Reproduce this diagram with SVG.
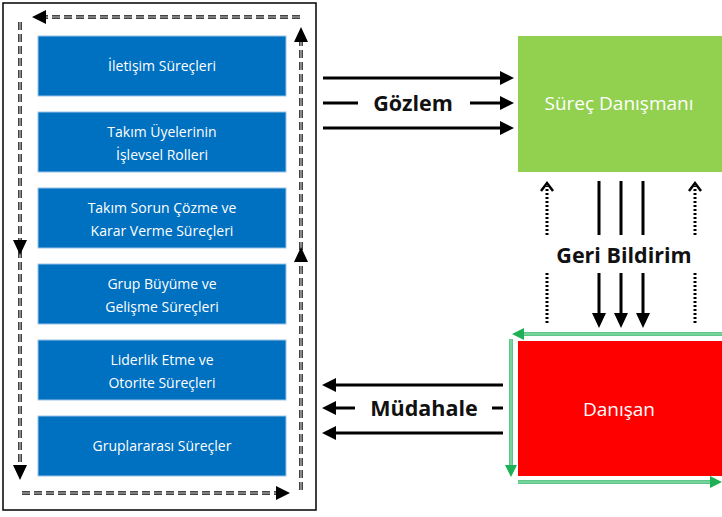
<svg xmlns="http://www.w3.org/2000/svg" width="722" height="517" viewBox="0 0 722 517">
<style>
.box{fill:#0070C0;stroke:#9DC3E6;stroke-width:1}
.bt{font-family:"Open Sans","Noto Sans",sans-serif;font-size:14px;fill:#fff;text-anchor:middle}
.big{font-family:"Open Sans","Noto Sans",sans-serif;font-size:19px;fill:#fff;text-anchor:middle}
.lbl{font-family:"Open Sans","Noto Sans",sans-serif;font-size:21.5px;font-weight:bold;fill:#111;text-anchor:middle}
.dash{fill:none;stroke:#444;stroke-width:4;stroke-dasharray:8,4}
.dashin{fill:none;stroke:#bbb;stroke-width:1.2;stroke-dasharray:8,4}
.sol{fill:none;stroke:#000;stroke-width:3}
.dot{fill:none;stroke:#000;stroke-width:3;stroke-dasharray:2,2}
.gr{fill:none;stroke:#28B463;stroke-width:3.5}
.grin{fill:none;stroke:#C8F0D4;stroke-width:1}
.hd{fill:#000}
.ghd{fill:#1FAF55}
</style>
<rect x="3" y="3" width="313" height="507" fill="#fff" stroke="#000" stroke-width="1.5"/>
<g id="n1"><rect class="box" x="38" y="36" width="248" height="60"/><text class="bt" x="162" y="71">İletişim Süreçleri</text></g>
<g id="n2"><rect class="box" x="38" y="112" width="248" height="60"/><text class="bt" x="162" y="137">Takım Üyelerinin</text><text class="bt" x="162" y="159.5">İşlevsel Rolleri</text></g>
<g id="n3"><rect class="box" x="38" y="188" width="248" height="60"/><text class="bt" x="162" y="213">Takım Sorun Çözme ve</text><text class="bt" x="162" y="235.5">Karar Verme Süreçleri</text></g>
<g id="n4"><rect class="box" x="38" y="264" width="248" height="60"/><text class="bt" x="162" y="289">Grup Büyüme ve</text><text class="bt" x="162" y="311.5">Gelişme Süreçleri</text></g>
<g id="n5"><rect class="box" x="38" y="340" width="248" height="60"/><text class="bt" x="162" y="365">Liderlik Etme ve</text><text class="bt" x="162" y="387.5">Otorite Süreçleri</text></g>
<g id="n6"><rect class="box" x="38" y="416" width="248" height="60"/><text class="bt" x="162" y="451">Gruplararası Süreçler</text></g>
<g id="danisman"><rect x="518" y="36" width="204" height="136" fill="#92D050"/><text class="big" x="619" y="110">Süreç Danışmanı</text></g>
<g id="danisan"><rect x="518" y="341" width="204" height="135" fill="#FF0000"/><text class="big" x="619" y="416">Danışan</text></g>
<g id="connectors">
<path class="dash" d="M300 17H44M301 490V42M20 22V466M22 493H276"/>
<path class="dashin" d="M300 17H44M301 490V42M20 22V466M22 493H276"/>
<path class="hd" d="M32 17L46 10V24ZM301 27L294 42H308ZM301 247L294 262H308ZM20 480L13 465H27ZM20 255L13 240H27ZM290 493L276 486V500Z"/>
<path class="sol" d="M323 78H502M323 128H502M323 103H358M470 103H502"/>
<path class="hd" d="M514 78L500 71V85ZM514 103L500 96V110ZM514 128L500 121V135Z"/>
<text class="lbl" x="413" y="111">Gözlem</text>
<path class="sol" d="M334 385H503M334 433H503M334 408H355M492 408H503"/>
<path class="hd" d="M322 385L336 378V392ZM322 408L336 401V415ZM322 433L336 426V440Z"/>
<text class="lbl" x="424" y="416">Müdahale</text>
<path class="sol" d="M599 181V235M621 181V235M643 181V235M599 273V315M621 273V315M643 273V315"/>
<path class="hd" d="M599 328L592 313H606ZM621 328L614 313H628ZM643 328L636 313H650Z"/>
<path class="dot" d="M547 235V186M695 235V186M547 273V325M695 273V325"/>
<path d="M541 191L547 183L553 191M689 191L695 183L701 191" fill="none" stroke="#000" stroke-width="2.5"/>
<text class="lbl" x="624" y="263">Geri Bildirim</text>
<path class="gr" d="M722 334H522M511 339V466M518 482H711"/>
<path class="grin" d="M722 334H522M511 339V466M518 482H711"/>
<path class="ghd" d="M512 334L524 328V340ZM511 477L505 465H517ZM722 482L710 476V488Z"/>
</g>
</svg>
